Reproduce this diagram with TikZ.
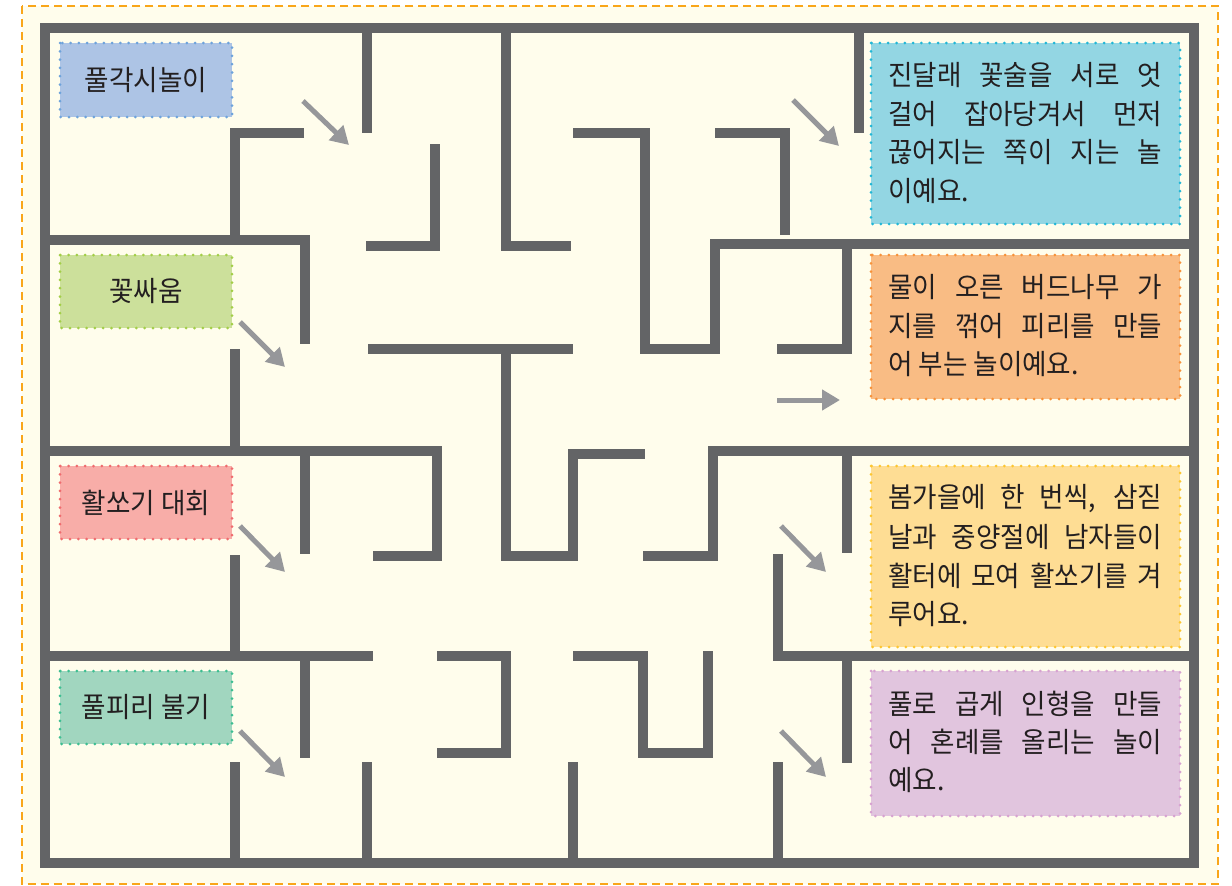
\documentclass[tikz,border=0pt]{standalone}
\usepackage{fontspec}
\setmainfont[FakeStretch=0.95]{Noto Sans CJK KR}
\usetikzlibrary{arrows.meta}
\definecolor{cream}{HTML}{FFFDEC}
\definecolor{edge}{HTML}{F9A61A}
\definecolor{wallc}{HTML}{636466}
\definecolor{arrc}{HTML}{96979A}
\definecolor{inkc}{HTML}{231F20}
\definecolor{bluef}{HTML}{ADC4E5}\definecolor{blued}{HTML}{6EA3DB}
\definecolor{greenf}{HTML}{CCE09B}\definecolor{greend}{HTML}{A3CE47}
\definecolor{pinkf}{HTML}{F8ADA8}\definecolor{pinkd}{HTML}{EF6C6E}
\definecolor{tealf}{HTML}{A1D6BF}\definecolor{teald}{HTML}{3DBE91}
\definecolor{cyanf}{HTML}{93D6E3}\definecolor{cyand}{HTML}{22B7D6}
\definecolor{orangef}{HTML}{F9BC84}\definecolor{oranged}{HTML}{F7923A}
\definecolor{yellowf}{HTML}{FEDD94}\definecolor{yellowd}{HTML}{FDC62F}
\definecolor{purplef}{HTML}{E1C5DE}\definecolor{purpled}{HTML}{D7A2D0}
\tikzset{
  wall/.style={line width=10pt, draw=wallc, line cap=butt, line join=miter},
  dotbox/.style={line width=3pt, line cap=round, dash pattern=on 0pt off 8.3pt},
  lbl/.style={inner sep=0pt, text=inkc, font=\fontsize{28}{30}\selectfont},
  txt/.style={inner sep=0pt, text=inkc, font=\fontsize{28}{30}\selectfont, anchor=west},
  arr/.style={line width=5pt, draw=arrc, -{Triangle[length=18pt,width=20pt]}}
}
\begin{document}
\begin{tikzpicture}[x=1pt,y=-1pt]
\useasboundingbox (0,0) rectangle (1232,886);
\fill[white] (0,0) rectangle (1232,886);
\fill[cream] (22,6) rectangle (1218,884);
\draw[edge, line width=2pt, dash pattern=on 8pt off 5pt] (22,6) rectangle (1218,884);

% label boxes (left)
\draw[dotbox, fill=bluef, draw=blued] (60,43) rectangle (232,117);
\draw[dotbox, fill=greenf, draw=greend] (60,255) rectangle (232,328);
\draw[dotbox, fill=pinkf, draw=pinkd] (60,466) rectangle (232,539);
\draw[dotbox, fill=tealf, draw=teald] (60,671) rectangle (232,744);
% description boxes (right)
\draw[dotbox, fill=cyanf, draw=cyand] (871,43) rectangle (1180,224);
\draw[dotbox, fill=orangef, draw=oranged] (871,255) rectangle (1180,399);
\draw[dotbox, fill=yellowf, draw=yellowd] (871,466) rectangle (1180,647);
\draw[dotbox, fill=purplef, draw=purpled] (871,671) rectangle (1180,816);

% maze walls
\draw[wall] (45,28) rectangle (1194,863);
\draw[wall] (45,240) -- (305,240) -- (305,344);
\draw[wall] (45,451) -- (437,451) -- (437,556) -- (373,556);
\draw[wall] (45,656) -- (373,656);
\draw[wall] (1194,244) -- (715,244) -- (715,349) -- (645,349) -- (645,133) -- (573,133);
\draw[wall] (1194,451) -- (713,451) -- (713,556) -- (643,556);
\draw[wall] (1194,656) -- (778,656) -- (778,554);
\draw[wall] (367,28) -- (367,133);
\draw[wall] (506,28) -- (506,246) -- (571,246);
\draw[wall] (304,133) -- (235,133) -- (235,240);
\draw[wall] (435,144) -- (435,246) -- (366,246);
\draw[wall] (235,349) -- (235,451);
\draw[wall] (368,349) -- (573,349);
\draw[wall] (506,349) -- (506,556) -- (573,556) -- (573,454) -- (645,454);
\draw[wall] (305,451) -- (305,554);
\draw[wall] (235,555) -- (235,656);
\draw[wall] (715,133) -- (785,133) -- (785,235);
\draw[wall] (859,28) -- (859,133);
\draw[wall] (847,244) -- (847,349) -- (777,349);
\draw[wall] (847,451) -- (847,553);
\draw[wall] (847,656) -- (847,763);
\draw[wall] (778,762) -- (778,863);
\draw[wall] (437,656) -- (506,656) -- (506,753) -- (437,753);
\draw[wall] (573,656) -- (643,656) -- (643,753) -- (708,753) -- (708,651);
\draw[wall] (367,762) -- (367,863);
\draw[wall] (573,762) -- (573,863);
\draw[wall] (235,762) -- (235,863);
\draw[wall] (305,656) -- (305,758);

% labels
\node[lbl] (l1) at (146,80) {풀각시놀이};
\node[lbl] (l2) at (146,291.5) {꽃싸움};
\node[lbl] (l3) at (146,502.5) {활쏘기 대회};
\node[lbl] (l4) at (146,707.5) {풀피리 불기};

% descriptions
\node[txt] (d1a) at (888,75.5) {\makebox[274pt][s]{진달래 꽃술을 서로 엇}};
\node[txt] (d1b) at (888,114) {\makebox[274pt][s]{걸어 잡아당겨서 먼저}};
\node[txt] (d1c) at (888,152.5) {\makebox[274pt][s]{끊어지는 쪽이 지는 놀}};
\node[txt] (d1d) at (888,191) {이예요.};
\node[txt] (d2a) at (888,287.5) {\makebox[274pt][s]{물이 오른 버드나무 가}};
\node[txt] (d2b) at (888,326) {\makebox[274pt][s]{지를 꺾어 피리를 만들}};
\node[txt] (d2c) at (888,364.5) {어 부는 놀이예요.};
\node[txt] (d3a) at (888,498.5) {\makebox[274pt][s]{봄가을에 한 번씩, 삼짇}};
\node[txt] (d3b) at (888,537) {\makebox[274pt][s]{날과 중양절에 남자들이}};
\node[txt] (d3c) at (888,575.5) {\makebox[274pt][s]{활터에 모여 활쏘기를 겨}};
\node[txt] (d3d) at (888,614) {루어요.};
\node[txt] (d4a) at (888,703.5) {\makebox[274pt][s]{풀로 곱게 인형을 만들}};
\node[txt] (d4b) at (888,742) {\makebox[274pt][s]{어 혼례를 올리는 놀이}};
\node[txt] (d4c) at (888,780.5) {예요.};

% arrows
\coordinate (a1s) at (303,101); \coordinate (a1e) at (349,145);
\coordinate (a2s) at (240,322); \coordinate (a2e) at (285,367);
\coordinate (a3s) at (240,526); \coordinate (a3e) at (285,572);
\coordinate (a4s) at (240,731); \coordinate (a4e) at (285,777);
\coordinate (a5s) at (793,100); \coordinate (a5e) at (839,146);
\coordinate (a6s) at (777,400); \coordinate (a6e) at (840,400);
\coordinate (a7s) at (781,526); \coordinate (a7e) at (826,572);
\coordinate (a8s) at (781,731); \coordinate (a8e) at (826,777);
\foreach \i in {1,...,8} {\draw[arr] (a\i s) -- (a\i e);}
\end{tikzpicture}
\end{document}
